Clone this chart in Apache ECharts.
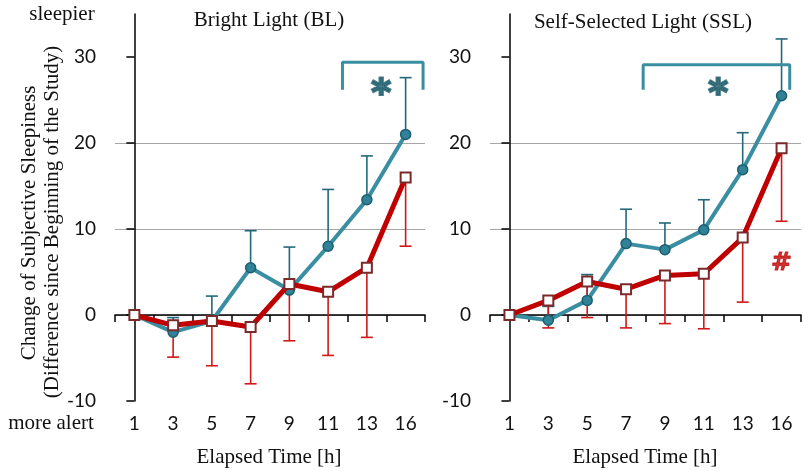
<!DOCTYPE html>
<html>
<head>
<meta charset="utf-8">
<script src="https://cdn.jsdelivr.net/npm/echarts@6/dist/echarts.min.js"></script>
<style>html,body{margin:0;padding:0;background:#fff}#c{width:804px;height:471px}</style>
</head>
<body>
<div id="c"></div>
<script>
// ---- data ----
const categories = ['1', '3', '5', '7', '9', '11', '13', '16'];
const yTicks = [-10, 0, 10, 20, 30];

// Bright Light (BL)
const blTeal = [0, -2.0, -0.7, 5.5, 2.9, 8.0, 13.4, 21.0];
const blTealUpper = [null, -0.3, 2.2, 9.8, 7.9, 14.6, 18.5, 27.6];
const blRed = [0, -1.2, -0.7, -1.4, 3.6, 2.7, 5.5, 16.0];
const blRedLower = [null, -4.9, -5.9, -8.0, -3.0, -4.7, -2.6, 8.0];
const blBracketX = [5.37, 7.45];
const blBracketY = [26.2, 29.4];
const blStar = [6.37, 26.7];

// Self-Selected Light (SSL)
const sslTeal = [0, -0.6, 1.7, 8.3, 7.6, 9.9, 16.9, 25.5];
const sslTealUpper = [null, 1.0, 4.7, 12.3, 10.7, 13.4, 21.2, 32.1];
const sslRed = [0, 1.7, 3.9, 3.0, 4.6, 4.8, 9.0, 19.4];
const sslRedLower = [null, -1.5, -0.3, -1.5, -1.0, -1.6, 1.5, 10.9];
const sslBracketX = [3.44, 7.21];
const sslBracketY = [26.2, 29.1];
const sslStar = [5.37, 26.7];
const sslHash = [7.0, 6.0];

// ---- styles ----
const TEAL = '#3a8ea2';
const TEAL_DARK = '#22687a';
const STAR = '#1d5c6c';
const RED = '#c00000';
const RED_ERR = '#d01818';
const NUM_FONT = 'Lato';

function errData(means, bounds) {
  const out = [];
  for (let i = 0; i < means.length; i++) {
    if (bounds[i] !== null) out.push([i, means[i], bounds[i]]);
  }
  return out;
}
function errRenderer(color) {
  return function (params, api) {
    const x = api.value(0);
    const p0 = api.coord([x, api.value(1)]);
    const p1 = api.coord([x, api.value(2)]);
    const hw = 6;
    return {
      type: 'group',
      children: [
        { type: 'line', shape: { x1: p0[0], y1: p0[1], x2: p1[0], y2: p1[1] }, style: { stroke: color, lineWidth: 1.6 } },
        { type: 'line', shape: { x1: p1[0] - hw, y1: p1[1], x2: p1[0] + hw, y2: p1[1] }, style: { stroke: color, lineWidth: 1.6 } }
      ]
    };
  };
}
function bracketData(bx, by) {
  return [[bx[0], by[0]], [bx[0], by[1]], [bx[1], by[1]], [bx[1], by[0]]];
}

function panelSeries(idx, teal, tealUp, red, redLow, bx, by, star, hash) {
  const s = [
    { type: 'custom', xAxisIndex: idx * 2, yAxisIndex: idx, renderItem: errRenderer(TEAL_DARK), data: errData(teal, tealUp), z: 1, silent: true },
    { type: 'custom', xAxisIndex: idx * 2, yAxisIndex: idx, renderItem: errRenderer(RED_ERR), data: errData(red, redLow), z: 1, silent: true },
    { type: 'line', xAxisIndex: idx * 2, yAxisIndex: idx, data: teal, z: 2,
      lineStyle: { color: TEAL, width: 4 }, symbol: 'circle', symbolSize: 10,
      itemStyle: { color: '#2f8297', borderColor: '#1d5e6e', borderWidth: 1.5 } },
    { type: 'line', xAxisIndex: idx * 2, yAxisIndex: idx, data: red, z: 3,
      lineStyle: { color: RED, width: 5 }, symbol: 'rect', symbolSize: 10,
      itemStyle: { color: '#ffffff', borderColor: '#7a2a2a', borderWidth: 2 } },
    { type: 'line', xAxisIndex: idx * 2 + 1, yAxisIndex: idx, data: bracketData(bx, by), z: 2,
      lineStyle: { color: TEAL, width: 3 }, symbol: 'none', silent: true },
    { type: 'scatter', xAxisIndex: idx * 2 + 1, yAxisIndex: idx, data: [star], symbolSize: 1,
      itemStyle: { color: 'rgba(0,0,0,0)' }, silent: true,
      label: { show: true, position: 'inside', formatter: '*', color: STAR,
        fontFamily: 'DejaVu Sans', fontWeight: 'bold', fontSize: 38,
        textBorderColor: STAR, textBorderWidth: 2.2, offset: [0, 10] } }
  ];
  if (hash) {
    s.push({ type: 'scatter', xAxisIndex: idx * 2 + 1, yAxisIndex: idx, data: [hash], symbolSize: 1,
      itemStyle: { color: 'rgba(0,0,0,0)' }, silent: true,
      label: { show: true, position: 'inside', formatter: '#', color: RED,
        fontFamily: 'DejaVu Sans', fontWeight: 'bold', fontSize: 25,
        textBorderColor: RED, textBorderWidth: 0.8 } });
  }
  return s;
}

function catAxis(gi) {
  return {
    type: 'category', gridIndex: gi, data: categories, boundaryGap: true,
    axisLine: { lineStyle: { color: '#000', width: 1.5 } },
    axisTick: { show: true, interval: 0, length: 7, lineStyle: { color: '#000', width: 1.5 } },
    axisLabel: { interval: 0, margin: 13, fontFamily: NUM_FONT, fontSize: 19, color: '#111' },
    splitLine: { show: false }
  };
}
function hiddenX(gi) {
  return { type: 'value', gridIndex: gi, min: -0.5, max: 7.5, show: false };
}
function valAxis(gi) {
  return {
    type: 'value', gridIndex: gi, min: -10, max: 35, interval: 10,
    axisLine: { show: true, lineStyle: { color: '#000', width: 1.5 } },
    axisTick: { show: true, length: 8, customValues: yTicks, lineStyle: { color: '#000', width: 1.5 } },
    axisLabel: { customValues: yTicks, margin: 19, fontFamily: NUM_FONT, fontSize: 19, color: '#111' },
    splitLine: { show: true, showMinLine: false, showMaxLine: false, lineStyle: { color: '#a6a6a6', width: 1 } }
  };
}

const chart = echarts.init(document.getElementById('c'), null, { renderer: 'canvas' });
const serifText = (x, y, text, extra) => Object.assign({
  type: 'text', x: x, y: y,
  style: { text: text, font: '21px "Liberation Serif"', fill: '#111', align: 'center', verticalAlign: 'middle' }
}, extra || {});

chart.setOption({
  animation: false,
  backgroundColor: '#fff',
  grid: [
    { left: 115, top: 14, width: 310, height: 387 },
    { left: 490, top: 14, width: 311, height: 387 }
  ],
  xAxis: [catAxis(0), hiddenX(0), catAxis(1), hiddenX(1)],
  yAxis: [valAxis(0), valAxis(1)],
  series: [].concat(
    panelSeries(0, blTeal, blTealUpper, blRed, blRedLower, blBracketX, blBracketY, blStar, null),
    panelSeries(1, sslTeal, sslTealUpper, sslRed, sslRedLower, sslBracketX, sslBracketY, sslStar, sslHash)
  ),
  graphic: [
    serifText(269, 20, 'Bright Light (BL)'),
    serifText(643, 22, 'Self-Selected Light (SSL)'),
    serifText(269, 457, 'Elapsed Time [h]'),
    serifText(645, 457, 'Elapsed Time [h]'),
    serifText(62, 14, 'sleepier'),
    serifText(51, 423, 'more alert'),
    serifText(29, 223, 'Change of Subjective Sleepiness', { rotation: Math.PI / 2 }),
    serifText(52, 222, '(Difference since Beginning of the Study)', { rotation: Math.PI / 2 })
  ]
});
</script>
</body>
</html>
